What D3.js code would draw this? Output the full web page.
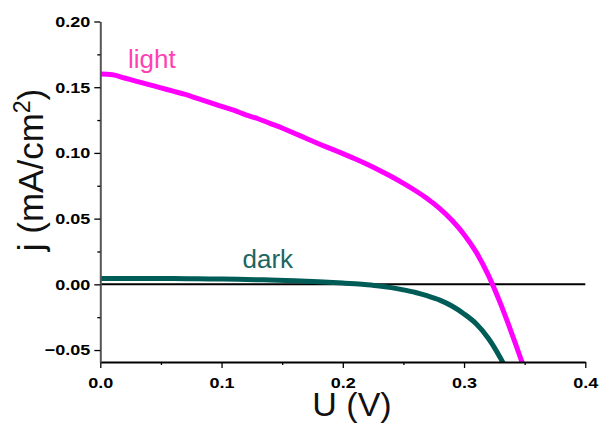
<!DOCTYPE html>
<html>
<head>
<meta charset="utf-8">
<script src="https://cdn.jsdelivr.net/npm/d3@7"></script>
<style>
  body { margin: 0; background: #fff; }
  svg { display: block; font-family: "Liberation Sans", Arial, sans-serif; }
</style>
</head>
<body>
<svg id="main"></svg>
<script>
// voltage (V) and current density (mA/cm2)
var lightU = [0, 0.01, 0.02, 0.03, 0.04, 0.05, 0.06, 0.07, 0.08, 0.09, 0.10, 0.11, 0.12, 0.13, 0.14, 0.15,
              0.16, 0.17, 0.18, 0.19, 0.20, 0.21, 0.22, 0.23, 0.24, 0.25, 0.26, 0.27, 0.28, 0.29, 0.30,
              0.31, 0.32, 0.33, 0.34, 0.35];
var lightJ = [0.160, 0.1595, 0.157, 0.1545, 0.152, 0.1495, 0.147, 0.1445, 0.1415, 0.1385, 0.1355, 0.1325,
              0.129, 0.126, 0.1225, 0.119, 0.115, 0.111, 0.107, 0.1033, 0.0995, 0.0955, 0.0913, 0.0868, 0.082,
              0.0768, 0.0712, 0.065, 0.0577, 0.0488, 0.038, 0.0245, 0.007, -0.0145, -0.039, -0.065];

var darkU = [0, 0.02, 0.04, 0.06, 0.08, 0.10, 0.12, 0.14, 0.16, 0.18, 0.20, 0.21, 0.22, 0.23, 0.24, 0.25,
             0.26, 0.27, 0.28, 0.29, 0.30, 0.31, 0.32, 0.33, 0.34];
var darkJ = [0.0045, 0.0045, 0.0045, 0.0045, 0.0042, 0.004, 0.0037, 0.0033, 0.0028, 0.002, 0.001, 0.0004,
             -0.0003, -0.0012, -0.0025, -0.0042, -0.0062, -0.0088, -0.012, -0.0165, -0.0225, -0.030,
             -0.041, -0.056, -0.074];

var xTicks = [0, 0.1, 0.2, 0.3, 0.4];
var xMinor = [0.05, 0.15, 0.25, 0.35];
var yTicks = [-0.05, 0, 0.05, 0.10, 0.15, 0.20];
var yMinor = [-0.025, 0.025, 0.075, 0.125, 0.175];

var chart = {
  width: 600,
  height: 423,
  left: 100.3,
  right: 585.3,
  top: 21.5,
  bottom: 362
}

var svg = d3.select("#main")
  .attr("width", chart.width)
  .attr("height", chart.height)

var x = d3.scaleLinear()
  .domain([0, 0.4])
  .range([chart.left, chart.right])

var y = d3.scaleLinear()
  .domain([-0.0591, 0.20])
  .range([chart.bottom, chart.top])

svg.append("clipPath").attr("id", "plot")
  .append("rect")
  .attr("x", chart.left).attr("y", chart.top)
  .attr("width", chart.right - chart.left)
  .attr("height", chart.bottom - chart.top)

// zero line
svg.append("line")
  .attr("x1", x(0)).attr("x2", x(0.4))
  .attr("y1", y(0)).attr("y2", y(0))
  .attr("stroke", "#000")
  .attr("stroke-width", 2)

var line = d3.line()
  .x(function(d) { return x(d[0]) })
  .y(function(d) { return y(d[1]) })
  .curve(d3.curveMonotoneX)

svg.append("path")
  .datum(darkU.map(function(u, i) { return [u, darkJ[i]] }))
  .attr("clip-path", "url(#plot)")
  .attr("d", line)
  .attr("fill", "none")
  .attr("stroke", "#005c57")
  .attr("stroke-width", 5)

svg.append("path")
  .datum(lightU.map(function(u, i) { return [u, lightJ[i]] }))
  .attr("clip-path", "url(#plot)")
  .attr("d", line)
  .attr("fill", "none")
  .attr("stroke", "#ff00ff")
  .attr("stroke-width", 5)

// axes
var xAxis = svg.append("g")
  .attr("transform", "translate(0," + chart.bottom + ")")
  .call(d3.axisBottom(x).tickValues(xTicks).tickFormat(d3.format(".1f")).tickSize(6).tickSizeOuter(0))

svg.append("g")
  .attr("transform", "translate(0," + chart.bottom + ")")
  .call(d3.axisBottom(x).tickValues(xMinor).tickFormat("").tickSize(3).tickSizeOuter(0))
  .select(".domain").remove()

var yAxis = svg.append("g")
  .attr("transform", "translate(" + chart.left + ",0)")
  .call(d3.axisLeft(y).tickValues(yTicks).tickFormat(d3.format(".2f")).tickSize(6).tickSizeOuter(0))

svg.append("g")
  .attr("transform", "translate(" + chart.left + ",0)")
  .call(d3.axisLeft(y).tickValues(yMinor).tickFormat("").tickSize(3).tickSizeOuter(0))
  .select(".domain").remove()

svg.selectAll(".domain").attr("stroke-width", 2)
xAxis.select(".domain").attr("stroke", "#000")
yAxis.select(".domain").attr("stroke", "#555")
svg.selectAll(".tick line").attr("stroke-width", 1.3)

// tick labels look horizontally stretched in the original
xAxis.selectAll("text")
  .attr("y", 15)
  .attr("x", 0)
  .attr("font-size", 15)
  .attr("font-weight", "bold")
  .attr("fill", "#000")
  .attr("transform", "scale(1.2,1)")

yAxis.selectAll("text")
  .attr("x", -10 / 1.2)
  .attr("font-size", 15)
  .attr("font-weight", "bold")
  .attr("fill", "#000")
  .attr("transform", "scale(1.2,1)")

// axis titles
svg.append("text")
  .attr("x", 352)
  .attr("y", 416)
  .attr("text-anchor", "middle")
  .attr("font-size", 34)
  .attr("fill", "#111")
  .text("U (V)")

var yt = svg.append("text")
  .attr("transform", "translate(43,170) rotate(-90)")
  .attr("text-anchor", "middle")
  .attr("font-size", 35)
  .attr("fill", "#111")
yt.append("tspan").text("j (mA/cm")
yt.append("tspan").attr("font-size", 23).attr("dy", -13).text("2")
yt.append("tspan").attr("dy", 13).text(")")

// curve labels
svg.append("text")
  .attr("x", 128)
  .attr("y", 68)
  .attr("font-size", 26)
  .attr("fill", "#ff3fb4")
  .text("light")

svg.append("text")
  .attr("x", 242.5)
  .attr("y", 268)
  .attr("font-size", 26)
  .attr("fill", "#1b6661")
  .text("dark")
</script>
</body>
</html>
